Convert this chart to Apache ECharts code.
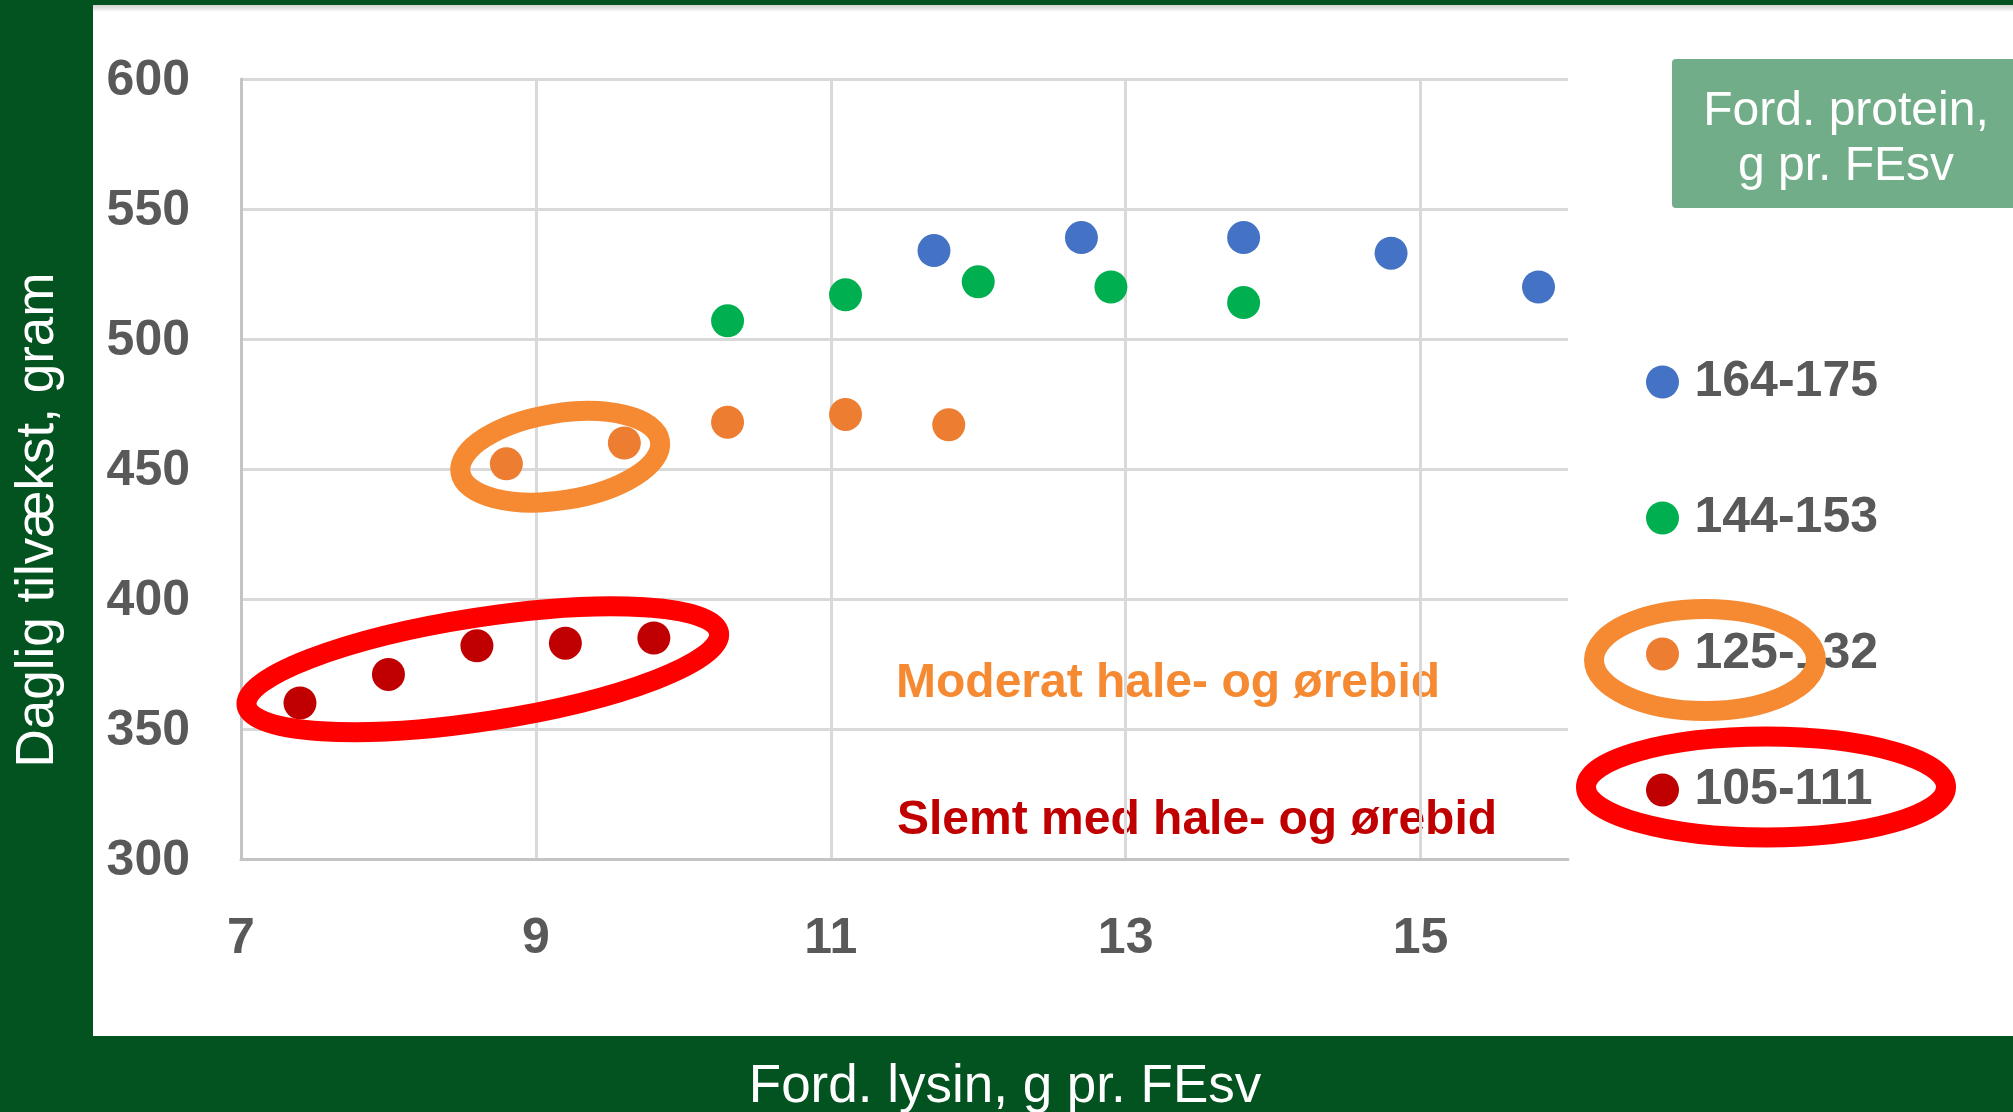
<!DOCTYPE html>
<html>
<head>
<meta charset="utf-8">
<script src="https://cdn.jsdelivr.net/npm/echarts@6/dist/echarts.min.js"></script>
<style>
  html, body { margin: 0; padding: 0; }
  body { width: 2013px; height: 1112px; background: #02531f; position: relative; overflow: hidden; }
  .panel {
    position: absolute; left: 93px; top: 5px; width: 1920px; height: 1031px;
    background: linear-gradient(#d4d4d4 0px, #e2e2e2 3px, #ffffff 7px, #ffffff 100%);
  }
  #chart { position: absolute; left: 0; top: 0; width: 2013px; height: 1112px; }
</style>
</head>
<body>
<div class="panel"></div>
<div id="chart"></div>
<script>
// fordøjelig lysin (g pr. FEsv) og daglig tilvækst (gram) pr. proteingruppe
const seriesNames = ['164-175', '144-153', '125-132', '105-111']
const seriesColors = ['#4472c4', '#00b050', '#ed7d31', '#c00000']

const blueX = [11.7, 12.7, 13.8, 14.8, 15.8]
const blueY = [534, 539, 539, 533, 520]
const greenX = [10.3, 11.1, 12.0, 12.9, 13.8]
const greenY = [507, 517, 522, 520, 514]
const orangeX = [8.8, 9.6, 10.3, 11.1, 11.8]
const orangeY = [452, 460, 468, 471, 467]
const redX = [7.4, 8.0, 8.6, 9.2, 9.8]
const redY = [360, 371, 382, 383, 385]

const xMin = 7, xMax = 16, xStep = 2
const yMin = 300, yMax = 600, yStep = 50

// ringe om grupperne i plottet (centrum i dataenheder)
const ringCenters = [[8.64, 373], [9.165, 454.7]]
const ringShapes = [
  { rx: 239, ry: 52, rot: 8.75, color: '#ff0000' },
  { rx: 101, ry: 43.5, rot: 9, color: '#f58a33' },
]

const FONT = '"Liberation Sans", Arial, sans-serif'
const GREY = '#595959'

const xs = [blueX, greenX, orangeX, redX]
const ys = [blueY, greenY, orangeY, redY]

const chart = echarts.init(document.getElementById('chart'), null, { renderer: 'canvas' })

const scatterSeries = seriesNames.map((name, i) => ({
  name,
  type: 'scatter',
  symbol: 'circle',
  symbolSize: 33,
  itemStyle: { color: seriesColors[i], opacity: 1 },
  data: xs[i].map((x, j) => [x, ys[i][j]]),
  z: 3,
}))

chart.setOption({
  animation: false,
  backgroundColor: 'transparent',
  textStyle: { fontFamily: FONT },
  grid: { left: 241, right: 445, top: 79, bottom: 253, containLabel: false },
  xAxis: {
    type: 'value',
    min: xMin,
    max: xMax,
    interval: xStep,
    axisLine: { show: true, lineStyle: { color: '#c4c4c4', width: 3 } },
    axisTick: { show: false },
    axisLabel: {
      margin: 55, fontSize: 50, fontWeight: 'bold', color: GREY, fontFamily: FONT,
      showMaxLabel: false,
    },
    splitLine: { show: true, showMaxLine: false, lineStyle: { color: '#d9d9d9', width: 3 } },
  },
  yAxis: {
    type: 'value',
    min: yMin,
    max: yMax,
    interval: yStep,
    axisLine: { show: true, lineStyle: { color: '#c4c4c4', width: 3 } },
    axisTick: { show: false },
    axisLabel: {
      margin: 51, fontSize: 50, fontWeight: 'bold', color: GREY, fontFamily: FONT,
      verticalAlign: 'top', lineHeight: 5,
    },
    splitLine: { show: true, lineStyle: { color: '#d9d9d9', width: 3 } },
  },
  legend: {
    orient: 'vertical',
    left: 1641,
    top: 352,
    itemWidth: 54,
    itemHeight: 33,
    itemGap: 86,
    icon: 'circle',
    selectedMode: false,
    textStyle: { fontSize: 50, fontWeight: 'bold', color: GREY, fontFamily: FONT, lineHeight: 50 },
    data: seriesNames,
  },
  series: [
    ...scatterSeries,
    {
      type: 'custom',
      silent: true,
      clip: false,
      z: 4,
      data: ringCenters,
      renderItem: (params, api) => {
        const s = ringShapes[params.dataIndex]
        const c = api.coord([api.value(0), api.value(1)])
        return {
          type: 'ellipse',
          x: c[0],
          y: c[1],
          rotation: s.rot * Math.PI / 180,
          shape: { cx: 0, cy: 0, rx: s.rx, ry: s.ry },
          style: { fill: 'none', stroke: s.color, lineWidth: 20 },
        }
      },
    },
  ],
  graphic: [
    // aksetitler
    {
      type: 'text', x: 38, y: 520, rotation: Math.PI / 2,
      style: { text: 'Daglig tilvækst, gram', fill: '#fff', font: '53px ' + FONT, align: 'center', verticalAlign: 'middle' },
    },
    {
      type: 'text', x: 1005, y: 1087,
      style: { text: 'Ford. lysin, g pr. FEsv', fill: '#fff', font: '53px ' + FONT, align: 'center', verticalAlign: 'middle' },
    },
    // legendeoverskrift
    {
      type: 'rect', shape: { x: 1672, y: 59, width: 345, height: 149, r: 4 },
      style: { fill: '#71ad89' },
    },
    {
      type: 'text', x: 1846, y: 139,
      style: { text: 'Ford. protein,\ng pr. FEsv', fill: '#fff', font: '48px ' + FONT, lineHeight: 55, align: 'center', verticalAlign: 'middle' },
    },
    // kommentarer
    {
      type: 'text', x: 896, y: 684,
      style: { text: 'Moderat hale- og ørebid', fill: '#f58a33', font: 'bold 48px ' + FONT, align: 'left', verticalAlign: 'middle' },
    },
    {
      type: 'text', x: 897, y: 821,
      style: { text: 'Slemt med hale- og ørebid', fill: '#c00000', font: 'bold 48px ' + FONT, align: 'left', verticalAlign: 'middle' },
    },
    // ringe om legenden
    {
      type: 'ellipse', z: 100, shape: { cx: 1705, cy: 660, rx: 111, ry: 51 },
      style: { fill: 'none', stroke: '#f58a33', lineWidth: 20 },
    },
    {
      type: 'ellipse', z: 100, shape: { cx: 1766, cy: 787, rx: 180, ry: 50.5 },
      style: { fill: 'none', stroke: '#ff0000', lineWidth: 20 },
    },
  ],
})
</script>
</body>
</html>
